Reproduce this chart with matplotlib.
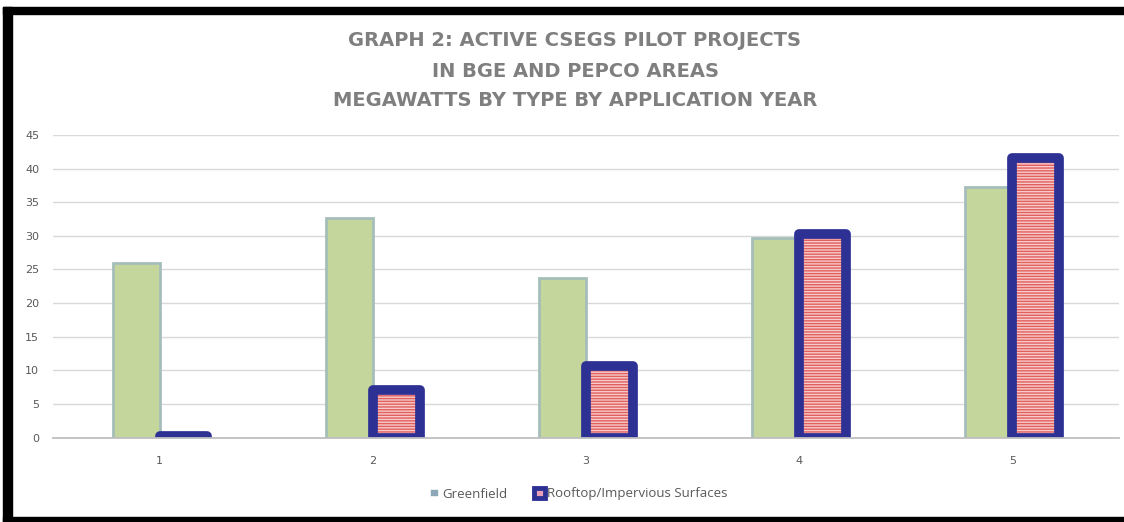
import matplotlib
matplotlib.use('Agg')
import matplotlib.pyplot as plt
import numpy as np
from matplotlib.patches import Patch, Rectangle

# ---- data ----
categories = ['1', '2', '3', '4', '5']
greenfield = [26.0, 32.6, 23.7, 29.7, 37.3]
rooftop = [0.2, 7.1, 10.6, 30.2, 41.6]
yticks = [0, 5, 10, 15, 20, 25, 30, 35, 40, 45]
series_names = ['Greenfield', 'Rooftop/Impervious Surfaces']
title_lines = ['GRAPH 2: ACTIVE CSEGS PILOT PROJECTS',
               'IN BGE AND PEPCO AREAS',
               'MEGAWATTS BY TYPE BY APPLICATION YEAR']

W, H = 1124, 522
fig = plt.figure(figsize=(W / 100, H / 100), dpi=100)
fig.patch.set_facecolor('white')

ax = fig.add_axes([53 / W, (H - 437.5) / H, 1066 / W, 302.5 / H])
x = np.arange(len(categories))
bw = 0.22

ax.bar(x - bw / 2, greenfield, bw, color='#C4D69C', edgecolor='#A6BEBA',
       linewidth=2.0, zorder=3)
ax.bar(x + bw / 2, rooftop, bw, color='#F8CACA', edgecolor='#E0605E',
       hatch='------', linewidth=0, zorder=3)
ax.bar(x + bw / 2, rooftop, bw, color='none', edgecolor='#2E3194',
       linewidth=7.0, joinstyle='round', zorder=4)

ax.set_xlim(-0.5, len(categories) - 0.5)
ax.set_ylim(0, 45)
ax.set_yticks(yticks)
ax.set_xticks(x)
ax.set_xticklabels(categories)
ax.yaxis.grid(True, color='#D9D9D9', linewidth=1.0, zorder=0)
ax.set_axisbelow(True)
for s in ['top', 'right', 'left']:
    ax.spines[s].set_visible(False)
ax.spines['bottom'].set_color('#BFBFBF')
ax.spines['bottom'].set_linewidth(1.3)
ax.spines['bottom'].set_zorder(5)
ax.tick_params(axis='both', length=0, labelsize=8, labelcolor='#595959')
ax.tick_params(axis='x', pad=13)
ax.tick_params(axis='y', pad=10)

# title
for line, yy in zip(title_lines, [41, 71.5, 101]):
    fig.text(575 / W, 1 - yy / H, line, ha='center', va='center',
             fontsize=14, fontweight='bold', color='#7F7F7F',
             family='DejaVu Sans')

# legend
handles = [Patch(facecolor='#8CA8B6', edgecolor='white', linewidth=2.6),
           Patch(facecolor='#E8A0B8', edgecolor='#2E3194', linewidth=3.5,
                 joinstyle='round')]
fig.legend(handles, series_names, loc='center',
           bbox_to_anchor=(578 / W, 1 - 494 / H), ncol=2, frameon=False,
           prop={'family': 'Open Sans', 'size': 9.5},
           handlelength=0.85, handleheight=0.85, handletextpad=0.15,
           columnspacing=2.0, labelcolor='#595959')

# black frame bands
fig.add_artist(Rectangle((3 / W, 0), 9 / W, (H - 7) / H,
                         transform=fig.transFigure, color='black', zorder=10))
fig.add_artist(Rectangle((3 / W, 1 - 14 / H), 1, 7 / H,
                         transform=fig.transFigure, color='black', zorder=10))
fig.add_artist(Rectangle((3 / W, 0), 1, 5 / H,
                         transform=fig.transFigure, color='black', zorder=10))

fig.savefig('out.png', dpi=100)
